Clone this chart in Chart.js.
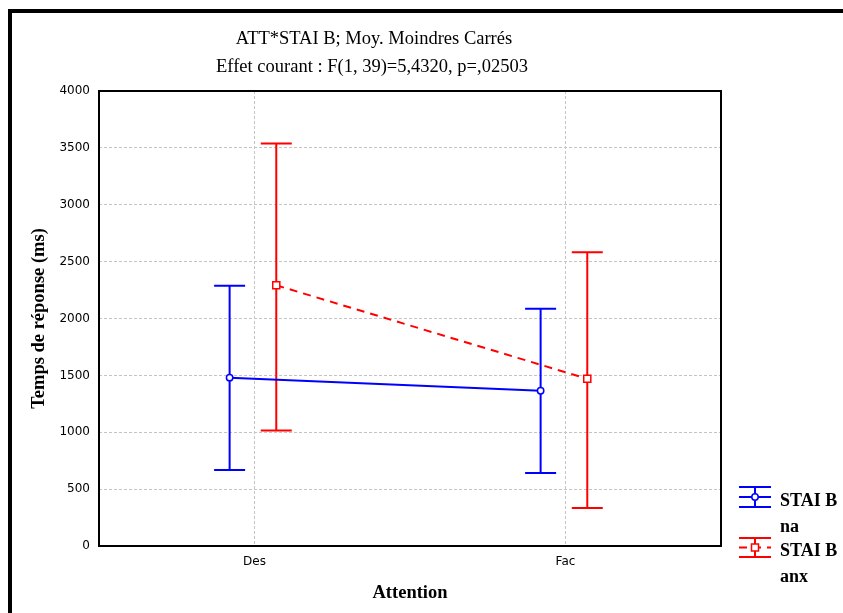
<!DOCTYPE html>
<html>
<head>
<meta charset="utf-8">
<script src="https://cdn.jsdelivr.net/npm/chart.js@4/dist/chart.umd.min.js"></script>
<style>
  html, body { margin: 0; padding: 0; background: #fff; }
  #wrap { width: 843px; height: 613px; }
</style>
</head>
<body>
<div id="wrap"><canvas id="chart"></canvas></div>
<script>
// Values (means with upper/lower bounds)
const categories = ['Des', 'Fac'];
const naMeans = [1480, 1365];
const naLower = [668, 642];
const naUpper = [2288, 2085];
const anxMeans = [2292, 1470];
const anxLower = [1015, 333];
const anxUpper = [3538, 2582];
const yTickValues = [0, 500, 1000, 1500, 2000, 2500, 3000, 3500, 4000];

const titleLines = ['ATT*STAI B; Moy. Moindres Carrés', 'Effet courant : F(1, 39)=5,4320, p=,02503'];
const legendLabels = [['STAI B', 'na'], ['STAI B', 'anx']];

const BLUE = '#0000ff';
const RED = '#ff0000';
const SERIF = '"Liberation Serif", "Times New Roman", serif';
const SANS = '"DejaVu Sans", Verdana, sans-serif';

// small horizontal dodge so the two groups do not overlap
const dodge = [-0.08, 0.07];

const toPoints = (means, shift) => means.map((y, i) => ({ x: i + shift, y }));

// error bars drawn from dataset values through the scales
const errorBars = {
  id: 'errorBars',
  beforeDatasetsDraw(chart) {
    const { ctx, scales: { x, y } } = chart;
    chart.data.datasets.forEach((ds) => {
      ctx.save();
      ctx.strokeStyle = ds.borderColor;
      ctx.lineWidth = 2;
      ds.data.forEach((pt, i) => {
        const px = x.getPixelForValue(pt.x);
        const lo = y.getPixelForValue(ds.errLow[i]);
        const hi = y.getPixelForValue(ds.errHigh[i]);
        ctx.beginPath();
        ctx.moveTo(px, lo);
        ctx.lineTo(px, hi);
        ctx.moveTo(px - 15.5, lo);
        ctx.lineTo(px + 15.5, lo);
        ctx.moveTo(px - 15.5, hi);
        ctx.lineTo(px + 15.5, hi);
        ctx.stroke();
      });
      ctx.restore();
    });
  },
};

const decorations = {
  id: 'decorations',
  beforeDraw(chart) {
    const { ctx } = chart;
    ctx.save();
    ctx.fillStyle = '#fff';
    ctx.fillRect(0, 0, chart.width, chart.height);
    ctx.restore();
  },
  afterDraw(chart) {
    const { ctx, chartArea: a } = chart;
    ctx.save();

    // plot box
    ctx.strokeStyle = '#000';
    ctx.lineWidth = 2;
    ctx.strokeRect(a.left, a.top, a.right - a.left, a.bottom - a.top);

    // outer frame (top and left)
    ctx.fillStyle = '#000';
    ctx.fillRect(8, 9, chart.width, 4);
    ctx.fillRect(8, 9, 4, chart.height);

    // title
    ctx.fillStyle = '#000';
    ctx.font = '18.5px ' + SERIF;
    ctx.textAlign = 'center';
    ctx.textBaseline = 'alphabetic';
    ctx.fillText(titleLines[0], 374, 44);
    ctx.fillText(titleLines[1], 372, 72);

    // legend
    const items = [
      { color: BLUE, dash: [], marker: 'circle', top: 487, mid: 497, bot: 507 },
      { color: RED, dash: [8, 6], marker: 'rect', top: 538, mid: 547.5, bot: 557 },
    ];
    const lx0 = 739, lx1 = 771, lcx = 755;
    items.forEach((it, k) => {
      ctx.strokeStyle = it.color;
      ctx.lineWidth = 2;
      ctx.setLineDash([]);
      ctx.beginPath();
      ctx.moveTo(lx0, it.top); ctx.lineTo(lx1, it.top);
      ctx.moveTo(lx0, it.bot); ctx.lineTo(lx1, it.bot);
      ctx.moveTo(lcx, it.top); ctx.lineTo(lcx, it.bot);
      ctx.stroke();
      ctx.setLineDash(it.dash);
      ctx.beginPath();
      ctx.moveTo(lx0, it.mid); ctx.lineTo(lx1, it.mid);
      ctx.stroke();
      ctx.setLineDash([]);
      ctx.fillStyle = '#fff';
      ctx.lineWidth = 1.5;
      ctx.beginPath();
      if (it.marker === 'circle') {
        ctx.arc(lcx, it.mid, 3.2, 0, Math.PI * 2);
      } else {
        ctx.rect(lcx - 3.5, it.mid - 3.5, 7, 7);
      }
      ctx.fill();
      ctx.stroke();

      ctx.fillStyle = '#000';
      ctx.font = 'bold 18px ' + SERIF;
      ctx.textAlign = 'left';
      ctx.fillText(legendLabels[k][0], 780, it.bot - 1);
      ctx.fillText(legendLabels[k][1], 780, it.bot + 25);
    });
    ctx.restore();
  },
};

new Chart(document.getElementById('chart'), {
  type: 'line',
  data: {
    datasets: [
      {
        label: 'STAI B na',
        data: toPoints(naMeans, dodge[0]),
        errLow: naLower,
        errHigh: naUpper,
        borderColor: BLUE,
        backgroundColor: '#fff',
        borderWidth: 2,
        pointStyle: 'circle',
        pointRadius: 3.2,
        pointBorderWidth: 1.5,
        pointBackgroundColor: '#fff',
        pointBorderColor: BLUE,
      },
      {
        label: 'STAI B anx',
        data: toPoints(anxMeans, dodge[1]),
        errLow: anxLower,
        errHigh: anxUpper,
        borderColor: RED,
        backgroundColor: '#fff',
        borderWidth: 2,
        borderDash: [8, 6],
        pointStyle: 'rect',
        pointRadius: 5,
        pointBorderWidth: 1.5,
        pointBackgroundColor: '#fff',
        pointBorderColor: RED,
      },
    ],
  },
  options: {
    responsive: true,
    maintainAspectRatio: false,
    animation: false,
    layout: { padding: { left: 0, top: 91, right: 122, bottom: 0 } },
    plugins: {
      legend: { display: false },
      title: { display: false },
      tooltip: { enabled: false },
    },
    scales: {
      x: {
        type: 'linear',
        min: -0.5,
        max: categories.length - 0.5,
        afterBuildTicks: (scale) => {
          scale.ticks = categories.map((c, i) => ({ value: i }));
        },
        afterFit: (scale) => { scale.height = 67; },
        ticks: {
          callback: (v) => categories[v],
          color: '#000',
          padding: 9,
          maxRotation: 0,
          font: { family: SANS, size: 12 },
        },
        grid: { color: '#c4c4c4', drawTicks: false, lineWidth: 1 },
        border: { display: false, dash: [3, 2] },
        title: {
          display: true,
          text: 'Attention',
          color: '#000',
          font: { family: SERIF, size: 18.5, weight: 'bold' },
          padding: { top: 0, bottom: 9 },
        },
      },
      y: {
        min: 0,
        max: 4000,
        afterBuildTicks: (scale) => {
          scale.ticks = yTickValues.map((v) => ({ value: v }));
        },
        afterFit: (scale) => { scale.width = 99; },
        ticks: {
          callback: (v) => String(v),
          color: '#000',
          padding: 9,
          font: { family: SANS, size: 12 },
        },
        grid: { color: '#c4c4c4', drawTicks: false, lineWidth: 1 },
        border: { display: false, dash: [3, 2] },
        title: {
          display: true,
          text: 'Temps de réponse (ms)',
          color: '#000',
          font: { family: SERIF, size: 18.5, weight: 'bold' },
          padding: { top: 28, bottom: 0 },
        },
      },
    },
  },
  plugins: [errorBars, decorations],
});
</script>
</body>
</html>
